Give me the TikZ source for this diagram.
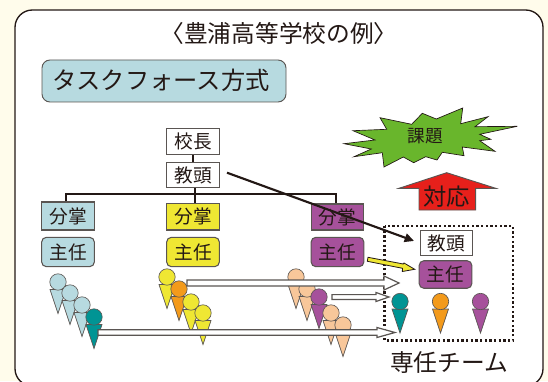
\documentclass[tikz,border=0pt]{standalone}
\usepackage{fontspec}
\setmainfont{Noto Sans CJK JP}
\usetikzlibrary{arrows.meta,calc}
\definecolor{cream}{HTML}{FFFCEB}
\definecolor{lblue}{HTML}{B7DAE0}
\definecolor{yel}{HTML}{EFE733}
\definecolor{purp}{HTML}{A6519B}
\definecolor{teal2}{HTML}{009494}
\definecolor{oran}{HTML}{F39A1B}
\definecolor{peach}{HTML}{F8C79A}
\definecolor{grn}{HTML}{69B62C}
\definecolor{redd}{HTML}{E7201B}
\definecolor{ink}{HTML}{231815}
\definecolor{edge}{HTML}{5A5552}
\tikzset{
 x=0.75pt,y=-0.75pt,
 every node/.style={text=ink,inner sep=0pt,font=\fontsize{14pt}{15pt}\selectfont},
 sq/.style={draw=edge,line width=0.8pt,minimum width=39.5pt,minimum height=21pt,fill=white},
 rd/.style={sq,rounded corners=3.5pt},
 tree/.style={draw=ink,line width=1.3pt},
 hollow/.style={draw=edge,line width=0.9pt,fill=white},
 part/.style={draw=edge,line width=0.5pt},
}
\newcommand{\person}[4]{% name, x, y(head centre), colour
 \draw[part,fill=#4] (#2-8,#3+7.5) -- (#2+8,#3+7.5) -- (#2,#3+31.5) -- cycle;
 \node[part,fill=#4,circle,minimum size=12.3pt] (#1) at (#2,#3) {};
}
\newcommand{\hollowarrow}[5]{% start, end, shaft half, head half, head length
 \draw[hollow] ($(#1)+(0,-#3)$) -- ($(#2)+(-#5,-#3)$) -- ($(#2)+(-#5,-#4)$) -- (#2) -- ($(#2)+(-#5,#4)$) -- ($(#2)+(-#5,#3)$) -- ($(#1)+(0,#3)$) -- cycle;
}
\begin{document}
\begin{tikzpicture}
\useasboundingbox (0,0) rectangle (548,381);
\fill[cream] (0,0) rectangle (548,381);
\clip (0,0) rectangle (548,381);
\draw[draw=ink,line width=1pt,fill=white,rounded corners=13pt] (15,386) rectangle (543,10);
\node[font=\fontsize{17.8pt}{19pt}\selectfont] (title) at (279,33) {〈豊浦高等学校の例〉};
\node[draw=edge,line width=0.7pt,fill=lblue,rounded corners=6pt,minimum width=183pt,minimum height=31.5pt] (head) at (164,81) {};
\node[font=\fontsize{18.2pt}{20pt}\selectfont] (headtext) at (161,80) {タスクフォース方式};
% tree
\node[sq,minimum height=19.6pt] (kocho) at (193,141.5) {校長};
\node[sq,minimum height=18.4pt] (kyoto) at (193,175) {教頭};
\coordinate (bar) at (195,194.3);
\node[sq,fill=lblue] (b1) at (68,216) {分掌};
\node[sq,fill=yel,minimum height=20.2pt] (b2) at (193,216.5) {分掌};
\node[sq,fill=purp,minimum height=19.5pt] (b3) at (337.5,217) {分掌};
\node[rd,fill=lblue,minimum height=22pt] (s1) at (68,252) {主任};
\node[rd,fill=yel,minimum height=22pt] (s2) at (193,252) {主任};
\node[rd,fill=purp,minimum height=22pt] (s3) at (337.5,252) {主任};
\draw[tree] (kocho) -- (kyoto);
\draw[tree] (kyoto.south -| bar) -- (b2.north -| bar);
\coordinate (bl) at (65.7,194.3);
\coordinate (br) at (335.7,194.3);
\draw[tree] (b1.north -| bl) -- (bl) -- (br) -- (b3.north -| br);
% team
\draw[draw=ink,line width=1.7pt,dash pattern=on 1.7pt off 1.8pt] (384.5,226) rectangle (513,340.5);
\node[sq,minimum height=19pt] (tk) at (446.5,243) {教頭};
\node[rd,fill=purp,minimum height=20.6pt] (ts) at (445.5,274.5) {主任};
\node[font=\fontsize{17.8pt}{19pt}\selectfont] (team) at (449,363) {専任チーム};
% people
\person{a1}{58}{282}{lblue}
\person{a2}{70}{293}{lblue}
\person{a3}{82}{305}{lblue}
\person{a4}{94}{317}{teal2}
\person{y1}{167}{277}{yel}
\person{o1}{179}{289}{oran}
\person{y2}{191}{302}{yel}
\person{y3}{203}{313}{yel}
\person{p1}{296}{277}{peach}
\person{p2}{307}{289}{peach}
\person{m1}{319}{297}{purp}
\person{p3}{331}{313}{peach}
\person{p4}{343}{325}{peach}
\person{t1}{400}{301.5}{teal2}
\person{t2}{440.5}{301.5}{oran}
\person{t3}{480.5}{301.5}{purp}
% hollow arrows
\coordinate (h1s) at (187,283);
\coordinate (h1e) at (399,283);
\coordinate (h2s) at (332,297);
\coordinate (h2e) at (389,297);
\coordinate (h3s) at (98,332.5);
\coordinate (h3e) at (395,332.5);
\hollowarrow{h1s}{h1e}{3}{7}{15}
\hollowarrow{h2s}{h2e}{2.4}{4.5}{13}
\hollowarrow{h3s}{h3e}{2.7}{5}{18}
% arrows
\coordinate (ks) at (227,172.7);
\draw[ink,line width=1.6pt,shorten >=4.5pt,-{Triangle[length=7pt,width=6.5pt]}] (ks) -- (tk.west);
\draw[ink,line width=0.6pt,fill=yel] (368,257.3) -- (403.3,264) -- (404,263) -- (414.7,269.3) -- (402.3,271.5) -- (402.5,268.3) -- (367.3,261.3) -- cycle;
% challenge
\draw[ink,line width=0.5pt,fill=grn] (344,143.7) -- (375,140) -- (353,130.7) -- (386.7,129.3) -- (380,117.7) -- (411.7,124.3) -- (422.3,113.3) -- (436.3,119) -- (462.7,108) -- (460.7,123.7) -- (488,116.7) -- (475,126.7) -- (517.3,126.3) -- (479.7,134.3) -- (490.7,139.3) -- (479.7,140.7) -- (495,151.3) -- (462.3,147) -- (464,155.7) -- (442.3,152.3) -- (437,160) -- (425.7,156.7) -- (413.7,162.7) -- (403.3,157) -- (384,167) -- (382.3,152.7) -- (354,156.7) -- (371.3,149) -- cycle;
\node[font=\fontsize{13.2pt}{15pt}\selectfont] (kadai) at (425,136) {課題};
% response
\draw[draw=edge,line width=0.7pt,fill=redd] (446.7,172.7) -- (495.7,188.3) -- (475.7,188.3) -- (475.7,210) -- (419,210) -- (419,188.3) -- (399,188.3) -- cycle;
\node[font=\fontsize{17.5pt}{19pt}\selectfont] (taio) at (446.5,197) {対応};
\end{tikzpicture}
\end{document}
